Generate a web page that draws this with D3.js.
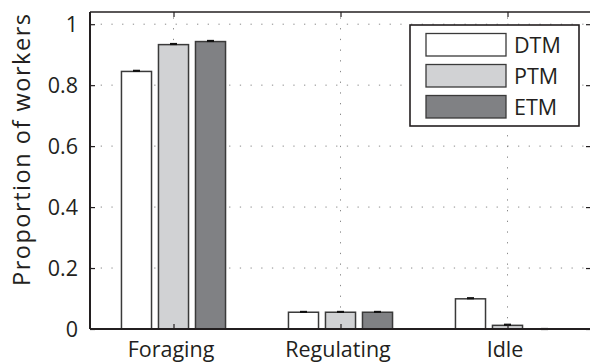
<!DOCTYPE html>
<html><head><meta charset="utf-8">
<script src="https://cdn.jsdelivr.net/npm/d3@7"></script>
<style>
html,body{margin:0;padding:0;background:#fff;}
svg{display:block;}
text{font-family:"Open Sans","Noto Sans",sans-serif;fill:#231f20;}
</style></head><body>
<svg id="c" width="590" height="364"></svg>
<script>
const categories = ["Foraging", "Regulating", "Idle"];
const seriesNames = ["DTM", "PTM", "ETM"];
const DTM = [0.845, 0.055, 0.099];
const PTM = [0.933, 0.055, 0.012];
const ETM = [0.943, 0.055, 0.0];
const DTM_err = [0.002, 0.001, 0.002];
const PTM_err = [0.002, 0.001, 0.002];
const ETM_err = [0.002, 0.001, 0.0];
const yTicks = [0, 0.2, 0.4, 0.6, 0.8, 1];
const yTickLabels = ["0", "0.2", "0.4", "0.6", "0.8", "1"];
const colors = ["#ffffff", "#d1d2d4", "#808184"];

const series = [DTM, PTM, ETM];
const errs = [DTM_err, PTM_err, ETM_err];

const svg = d3.select("#c");
const L = 90, R = 591, T = 12, B = 329;
const x = d3.scaleLinear().domain([0.5, 3.5]).range([L, R]);
const y = d3.scaleLinear().domain([0, 1.04]).range([B, T]);
const off = 0.2216, bw = 0.18;
const ink = "#231f20";

// gridlines
const g = svg.append("g");
g.selectAll(".gy").data(yTicks.slice(1)).enter().append("line")
  .attr("x1", L).attr("x2", R).attr("y1", d => y(d)).attr("y2", d => y(d))
  .attr("stroke", "#8a8a8a").attr("stroke-width", 1).attr("stroke-dasharray", "1.3,9.4");
g.selectAll(".gx").data(categories).enter().append("line")
  .attr("x1", (d, i) => x(i + 1)).attr("x2", (d, i) => x(i + 1))
  .attr("y1", B).attr("y2", T)
  .attr("stroke", "#8a8a8a").attr("stroke-width", 1).attr("stroke-dasharray", "1.3,9.4");

// bars
series.forEach((vals, j) => {
  const gs = svg.append("g");
  gs.selectAll("rect").data(vals).enter().append("rect")
    .attr("x", (d, i) => x(i + 1 + (j - 1) * off - bw / 2))
    .attr("width", x(1 + bw) - x(1))
    .attr("y", d => y(d))
    .attr("height", d => y(0) - y(d))
    .attr("fill", colors[j]).attr("stroke", "#3a3a3a").attr("stroke-width", 1.5);
  gs.selectAll("line").data(vals).enter().append("line")
    .attr("x1", (d, i) => x(i + 1 + (j - 1) * off) - 3.5)
    .attr("x2", (d, i) => x(i + 1 + (j - 1) * off) + 3.5)
    .attr("y1", (d, i) => y(d + errs[j][i])).attr("y2", (d, i) => y(d + errs[j][i]))
    .attr("stroke", "#111").attr("stroke-width", 2.2);
});

// axes
const yAxisL = d3.axisLeft(y).tickValues(yTicks).tickFormat((d, i) => yTickLabels[i]).tickSize(-5).tickPadding(12);
const ya = svg.append("g").attr("transform", `translate(${L},0)`).call(yAxisL);
ya.select(".domain").remove();
ya.selectAll("line").attr("stroke", ink).attr("stroke-width", 1.2);
ya.selectAll("text").style("font-size", "21.5px").attr("fill", ink).attr("dy", "0.36em");

const yAxisR = d3.axisRight(y).tickValues(yTicks).tickFormat("").tickSize(-5);
const yr = svg.append("g").attr("transform", `translate(${R},0)`).call(yAxisR);
yr.select(".domain").remove();
yr.selectAll("line").attr("stroke", ink).attr("stroke-width", 1.2);

const xAxisB = d3.axisBottom(x).tickValues([1, 2, 3]).tickFormat((d, i) => categories[i]).tickSize(-5).tickPadding(13);
const xa = svg.append("g").attr("transform", `translate(0,${B})`).call(xAxisB);
xa.select(".domain").remove();
xa.selectAll("line").attr("stroke", ink).attr("stroke-width", 1.2);
xa.selectAll("text").style("font-size", "21.5px").attr("fill", ink).attr("dy", "0.71em").attr("dx", -3);

const xAxisT = d3.axisTop(x).tickValues([1, 2, 3]).tickFormat("").tickSize(-5);
const xt = svg.append("g").attr("transform", `translate(0,${T})`).call(xAxisT);
xt.select(".domain").remove();
xt.selectAll("line").attr("stroke", ink).attr("stroke-width", 1.2);

// frame
svg.append("line").attr("x1", L).attr("x2", R).attr("y1", B).attr("y2", B).attr("stroke", ink).attr("stroke-width", 2);
svg.append("line").attr("x1", L).attr("x2", L).attr("y1", T).attr("y2", B).attr("stroke", ink).attr("stroke-width", 2);
svg.append("line").attr("x1", L).attr("x2", R).attr("y1", T).attr("y2", T).attr("stroke", ink).attr("stroke-width", 1.5);

// y label
svg.append("text").attr("transform", `translate(30,150) rotate(-90)`)
  .attr("text-anchor", "middle").style("font-size", "23.5px")
  .attr("textLength", 272).attr("lengthAdjust", "spacing")
  .text("Proportion of workers");

// legend
const lg = svg.append("g");
lg.append("rect").attr("x", 410).attr("y", 25).attr("width", 169).attr("height", 101)
  .attr("fill", "#fff").attr("stroke", ink).attr("stroke-width", 1.6);
seriesNames.forEach((n, j) => {
  lg.append("rect").attr("x", 426).attr("y", 33.5 + j * 31).attr("width", 80).attr("height", 22.5)
    .attr("fill", colors[j]).attr("stroke", "#3a3a3a").attr("stroke-width", 1.3);
  lg.append("text").attr("x", 514).attr("y", 52.5 + j * 31).style("font-size", "21.5px").text(n);
});
</script>
</body></html>
